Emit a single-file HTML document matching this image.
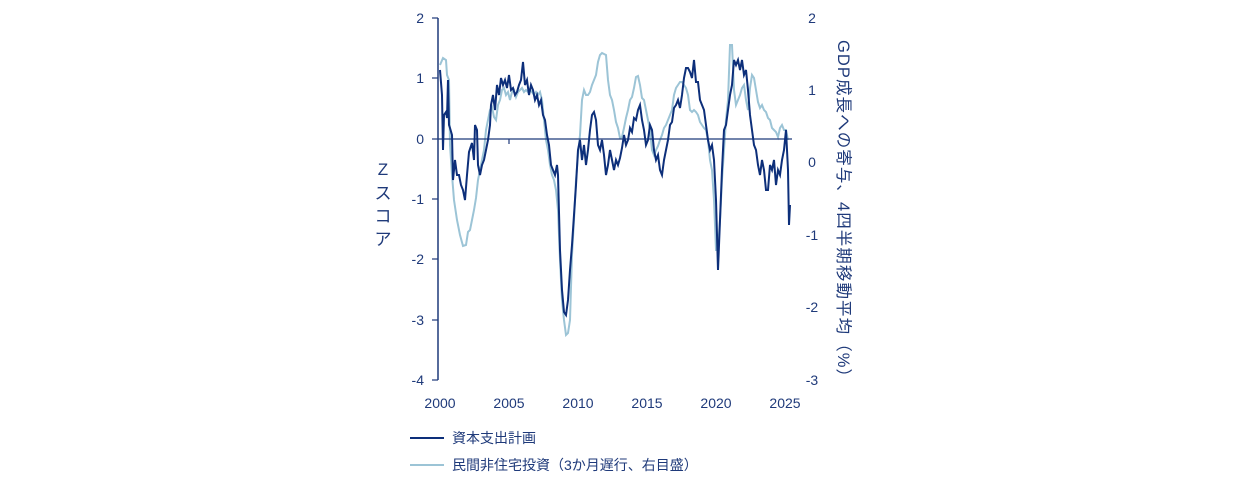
<!DOCTYPE html>
<html><head><meta charset="utf-8"><style>
body{margin:0;background:#fff;}
svg{display:block;font-family:"Liberation Sans","Noto Sans CJK JP",sans-serif;}
</style></head><body>
<svg width="1234" height="483" viewBox="0 0 1234 483">
<g fill="#1f3a7a" font-size="14">
<text x="424" y="23" text-anchor="end">2</text>
<text x="424" y="83" text-anchor="end">1</text>
<text x="424" y="144" text-anchor="end">0</text>
<text x="424" y="204" text-anchor="end">-1</text>
<text x="424" y="264" text-anchor="end">-2</text>
<text x="424" y="325" text-anchor="end">-3</text>
<text x="424" y="385" text-anchor="end">-4</text>
<text x="812" y="23" text-anchor="middle">2</text>
<text x="812" y="95" text-anchor="middle">1</text>
<text x="812" y="167" text-anchor="middle">0</text>
<text x="812" y="240" text-anchor="middle">-1</text>
<text x="812" y="312" text-anchor="middle">-2</text>
<text x="812" y="385" text-anchor="middle">-3</text>
<text x="440" y="408" text-anchor="middle">2000</text>
<text x="509" y="408" text-anchor="middle">2005</text>
<text x="578" y="408" text-anchor="middle">2010</text>
<text x="647" y="408" text-anchor="middle">2015</text>
<text x="716" y="408" text-anchor="middle">2020</text>
<text x="785" y="408" text-anchor="middle">2025</text>
</g>
<g fill="#1f3a7a" font-size="17" text-anchor="middle">
<text x="383" y="175">Z</text><text x="383" y="199">ス</text><text x="383" y="222">コ</text><text x="383" y="245">ア</text>
</g>
<text transform="translate(838,40) rotate(90)" fill="#1f3a7a" font-size="16.5" textLength="345" lengthAdjust="spacing">GDP成長への寄与、4四半期移動平均（%）</text>
<line x1="438" y1="18" x2="438" y2="380" stroke="#1f3a7a" stroke-width="1.5"/>
<g stroke="#1f3a7a" stroke-width="1.2">
<line x1="432" y1="18" x2="438" y2="18"/><line x1="432" y1="78" x2="438" y2="78"/><line x1="432" y1="139" x2="438" y2="139"/><line x1="432" y1="199" x2="438" y2="199"/><line x1="432" y1="259" x2="438" y2="259"/><line x1="432" y1="320" x2="438" y2="320"/><line x1="432" y1="380" x2="438" y2="380"/>
<line x1="509" y1="139" x2="509" y2="144"/>
</g>
<polyline fill="none" stroke="#9cc4d6" stroke-width="2" points="440,65 443,58 446,60 447,75 449,80 450,145 452,175 454,200 457,220 460,235 463,246 466,245 468,232 470,230 472,220 474,210 476,198 478,180 480,170 482,160 484,150 486,130 488,120 490,110 492,107 494,117 496,120 498,105 500,100 502,90 504,88 506,95 508,92 510,100 512,92 514,90 516,97 518,92 520,90 522,88 524,92 526,90 528,92 530,90 532,92 534,95 536,92 538,95 540,92 542,100 544,120 546,140 548,150 550,165 552,175 554,180 556,190 558,210 560,260 562,300 564,320 566,335 568,333 570,320 572,255 574,220 576,180 578,155 580,135 582,100 584,90 586,95 588,95 590,92 592,85 594,80 596,75 598,62 600,55 602,53 604,54 606,55 608,80 610,95 612,100 614,110 616,122 618,128 620,138 622,137 624,128 626,118 628,110 630,100 632,97 634,88 636,77 638,76 640,85 642,98 644,100 646,110 648,120 650,130 652,150 654,155 656,150 658,146 660,140 662,135 664,128 666,125 668,120 670,115 672,110 674,95 676,88 678,85 680,82 682,82 684,85 686,88 688,95 690,110 692,112 694,110 696,112 698,115 700,122 702,125 704,128 706,130 708,140 710,160 712,170 714,200 716,250 718,250 720,220 722,180 724,150 726,120 728,100 730,45 732,45 734,90 736,105 738,100 740,95 742,88 744,85 746,100 748,110 750,88 752,75 754,78 756,90 758,102 760,108 762,105 764,110 766,112 768,118 770,120 772,128 774,130 776,132 778,137 780,128 782,125 784,130 786,130 788,140"/>
<line x1="438" y1="139" x2="792" y2="139" stroke="#1f3a7a" stroke-width="1.3"/>
<polyline fill="none" stroke="#0d2f7a" stroke-width="2" points="440,70 442,95 443,150 444,115 446,112 447,118 448,80 449,125 450,128 452,135 453,180 455,160 457,175 459,175 461,185 463,190 465,200 467,175 469,152 472,143 474,160 475,125 477,130 478,165 480,175 482,165 484,160 486,150 488,140 490,125 491,105 493,95 495,110 497,85 499,95 501,78 503,85 505,80 507,88 509,75 511,90 513,88 515,95 517,92 519,85 521,80 523,62 525,85 527,80 529,95 531,85 533,90 535,100 537,95 539,105 541,100 543,115 545,120 547,135 549,145 551,165 553,170 555,175 557,165 558,175 560,250 562,290 564,312 566,315 568,300 570,270 572,245 574,215 576,185 578,150 580,140 582,160 584,145 586,165 588,150 590,130 592,115 594,112 596,120 598,145 600,150 602,140 604,155 606,175 608,165 610,150 612,160 614,170 616,160 618,165 620,158 622,148 624,135 626,145 628,140 630,128 632,132 634,118 636,120 638,110 640,105 642,120 644,130 646,145 648,140 650,125 652,130 654,150 656,160 658,155 660,170 662,175 664,160 666,150 668,140 670,125 672,122 674,108 676,105 678,100 680,108 682,95 684,78 686,68 688,68 690,72 692,78 694,60 696,82 698,82 700,100 702,105 704,110 706,125 708,140 710,150 712,145 714,160 716,200 718,270 720,220 722,170 724,130 726,125 728,110 730,95 732,85 734,60 736,65 738,60 740,70 742,60 744,75 746,70 748,90 750,115 752,130 754,145 756,150 758,165 760,175 762,160 764,170 766,190 768,190 770,165 772,170 774,160 776,185 778,170 780,175 782,160 784,150 786,130 788,170 789,225 790,205"/>
<line x1="410" y1="438" x2="444" y2="438" stroke="#0d2f7a" stroke-width="2"/>
<line x1="410" y1="465" x2="444" y2="465" stroke="#9cc4d6" stroke-width="2"/>
<text x="452" y="443" fill="#1f3a7a" font-size="14">資本支出計画</text>
<text x="452" y="470" fill="#1f3a7a" font-size="14">民間非住宅投資（3か月遅行、右目盛）</text>
</svg>
</body></html>
